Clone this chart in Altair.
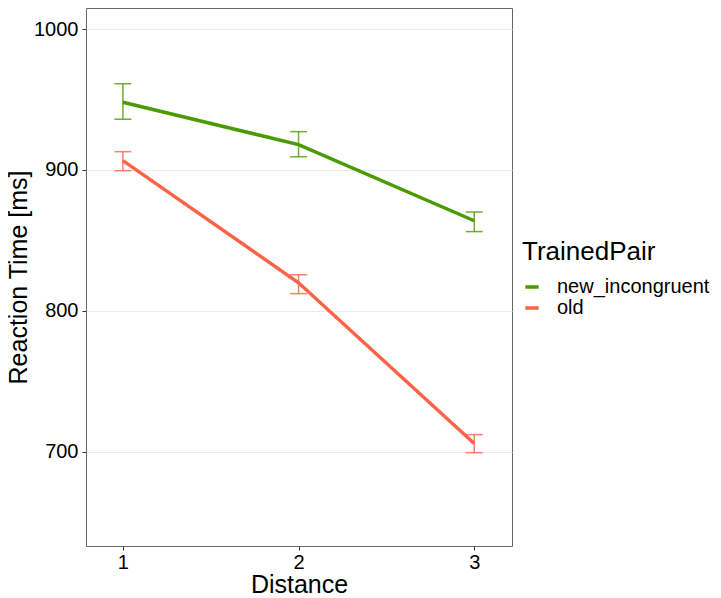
import altair as alt
import pandas as pd

distance = [1, 2, 3]
series = ["new_incongruent", "old"]
means_new = [948.0, 918.0, 864.0]
lo_new = [936.0, 909.4, 856.3]
hi_new = [961.2, 927.2, 870.2]
means_old = [906.6, 820.0, 706.0]
lo_old = [899.5, 812.3, 699.5]
hi_old = [913.0, 825.7, 712.3]
colors = ["#4A9A00", "#FF6347"]

rows = []
for d, m, lo, hi in zip(distance, means_new, lo_new, hi_new):
    rows.append({"Distance": d, "RT": m, "lo": lo, "hi": hi, "TrainedPair": series[0]})
for d, m, lo, hi in zip(distance, means_old, lo_old, hi_old):
    rows.append({"Distance": d, "RT": m, "lo": lo, "hi": hi, "TrainedPair": series[1]})
df = pd.DataFrame(rows)

FONT = "Liberation Sans"

xscale = alt.Scale(domain=[0.79, 3.215], nice=False, zero=False)
yscale = alt.Scale(domain=[633.3, 1014.9], nice=False, zero=False)
color = alt.Color(
    "TrainedPair:N",
    scale=alt.Scale(domain=series, range=colors),
    legend=alt.Legend(
        title="TrainedPair",
        orient="none",
        legendX=436,
        legendY=231,
        symbolType="stroke",
        symbolStrokeWidth=3.5,
        symbolSize=180,
        labelOffset=15,
        titleFontSize=26,
        titleFont=FONT,
        titleFontWeight="normal",
        titleColor="black",
        labelFontSize=20,
        labelFont=FONT,
        labelColor="black",
        rowPadding=1,
        titlePadding=12,
    ),
)

base = alt.Chart(df)

x_enc = alt.X(
    "Distance:Q",
    scale=xscale,
    axis=alt.Axis(
        title="Distance",
        values=[1, 2, 3],
        format="d",
        grid=False,
        domain=False,
        tickSize=4,
        tickColor="#333333",
        labelPadding=2,
        labelFontSize=20,
        labelFont=FONT,
        labelColor="black",
        titleFontSize=25,
        titleFont=FONT,
        titleFontWeight="normal",
        titleColor="black",
        titlePadding=0,
    ),
)
y_enc = alt.Y(
    "RT:Q",
    scale=yscale,
    axis=alt.Axis(
        title="Reaction Time [ms]",
        values=[700, 800, 900, 1000],
        format="d",
        grid=True,
        gridColor="#EBEBEB",
        gridWidth=1,
        domain=False,
        tickSize=4,
        tickColor="#333333",
        labelPadding=4,
        labelFontSize=20,
        labelFont=FONT,
        labelColor="black",
        titleFontSize=25,
        titleFont=FONT,
        titleFontWeight="normal",
        titleColor="black",
        titlePadding=2,
    ),
)

lines = base.mark_line(strokeWidth=3.5).encode(x=x_enc, y=y_enc, color=color)

err_color = alt.Color("TrainedPair:N", scale=alt.Scale(domain=series, range=colors), legend=None)
err = base.mark_rule(strokeWidth=1.5, opacity=0.8).encode(
    x=alt.X("Distance:Q", scale=xscale),
    y=alt.Y("lo:Q", scale=yscale),
    y2="hi:Q",
    color=err_color,
)
cap_lo = base.mark_tick(orient="horizontal", size=17, thickness=1.5, opacity=0.8).encode(
    x=alt.X("Distance:Q", scale=xscale),
    y=alt.Y("lo:Q", scale=yscale),
    color=err_color,
)
cap_hi = base.mark_tick(orient="horizontal", size=17, thickness=1.5, opacity=0.8).encode(
    x=alt.X("Distance:Q", scale=xscale),
    y=alt.Y("hi:Q", scale=yscale),
    color=err_color,
)

chart = (
    alt.layer(lines, err, cap_lo, cap_hi)
    .properties(
        width=426,
        height=538,
        background="white",
        autosize=alt.AutoSizeParams(type="none"),
        padding={"left": 78, "top": 0, "right": 201, "bottom": 50},
    )
    .configure_view(stroke="#666666", strokeWidth=1, strokeOpacity=1)
)

chart.save("out.html", embed_options={"renderer": "svg", "actions": False})
